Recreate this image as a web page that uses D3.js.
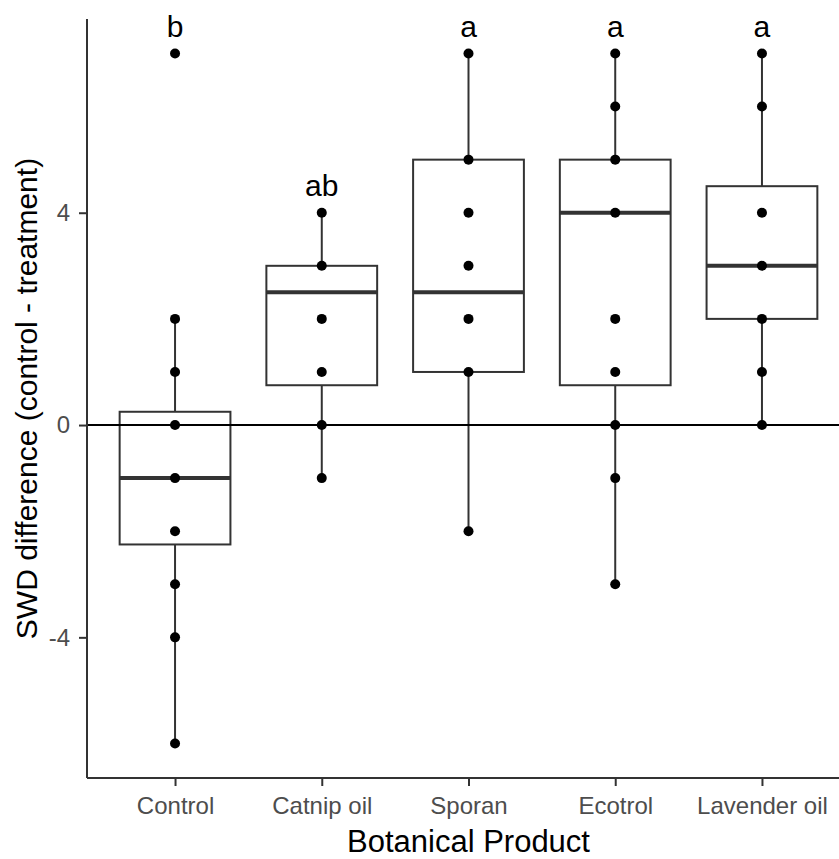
<!DOCTYPE html>
<html lang="en">
<head>
    <meta charset="utf-8">
    <title>SWD difference by botanical product</title>
    <style>
        body { margin: 0; background: #fff; font-family: "Liberation Sans", Arial, sans-serif; }
    </style>
    <script type="text/javascript" src="https://d3js.org/d3.v7.min.js"></script>
</head>
<body>
    <div class="chart"></div>

    <script type="text/javascript">
        // DATA ------------------------------------
        const categories = ["Control", "Catnip oil", "Sporan", "Ecotrol", "Lavender oil"];
        const points = [
            [7, 2, 1, 0, -1, -2, -3, -4, -6],
            [4, 3, 2, 1, 0, -1],
            [7, 5, 4, 3, 2, 1, -2],
            [7, 6, 5, 4, 2, 1, 0, -1, -3],
            [7, 6, 4, 3, 2, 1, 0]
        ];
        const q1 = [-2.25, 0.75, 1, 0.75, 2];
        const medians = [-1, 2.5, 2.5, 4, 3];
        const q3 = [0.25, 3, 5, 5, 4.5];
        const whiskerLow = [-6, -1, -2, -3, 0];
        const whiskerHigh = [2, 4, 7, 7, 7];
        const letters = ["b", "ab", "a", "a", "a"];
        const yTicks = [-4, 0, 4];

        // CHART INIT ------------------------------
        const W = 839, H = 859;
        const plot = {left: 87, right: 850, top: 19, bottom: 778};

        const svg = d3.select(".chart")
            .append("svg")
            .attr("width", W)
            .attr("height", H);

        const x = d3.scalePoint()
            .domain(categories)
            .range([plot.left, plot.right])
            .padding(0.6);

        const y = d3.scaleLinear()
            .domain([-6.65, 7.65])
            .range([plot.bottom, plot.top]);

        const boxW = x.step() * 0.755;

        const rows = categories.map((c, i) => ({
            cat: c, q1: q1[i], med: medians[i], q3: q3[i],
            lo: whiskerLow[i], hi: whiskerHigh[i], pts: points[i], letter: letters[i],
            top: d3.max(points[i])
        }));

        // whiskers
        const g = svg.append("g");
        g.selectAll(".whisker-hi")
            .data(rows)
            .join("line")
            .attr("x1", d => x(d.cat)).attr("x2", d => x(d.cat))
            .attr("y1", d => y(d.q3)).attr("y2", d => y(d.hi))
            .attr("stroke", "#333").attr("stroke-width", 2);
        g.selectAll(".whisker-lo")
            .data(rows)
            .join("line")
            .attr("x1", d => x(d.cat)).attr("x2", d => x(d.cat))
            .attr("y1", d => y(d.q1)).attr("y2", d => y(d.lo))
            .attr("stroke", "#333").attr("stroke-width", 2);

        // boxes
        g.selectAll("rect")
            .data(rows)
            .join("rect")
            .attr("x", d => x(d.cat) - boxW / 2)
            .attr("y", d => y(d.q3))
            .attr("width", boxW)
            .attr("height", d => y(d.q1) - y(d.q3))
            .attr("fill", "#fff")
            .attr("stroke", "#333")
            .attr("stroke-width", 2);

        // medians
        g.selectAll(".median")
            .data(rows)
            .join("line")
            .attr("class", "median")
            .attr("x1", d => x(d.cat) - boxW / 2).attr("x2", d => x(d.cat) + boxW / 2)
            .attr("y1", d => y(d.med)).attr("y2", d => y(d.med))
            .attr("stroke", "#333").attr("stroke-width", 4);

        // zero reference line
        svg.append("line")
            .attr("x1", plot.left).attr("x2", W)
            .attr("y1", y(0)).attr("y2", y(0))
            .attr("stroke", "#000").attr("stroke-width", 2);

        // points
        const flat = rows.flatMap(d => d.pts.map(v => ({cat: d.cat, v: v})));
        svg.selectAll("circle")
            .data(flat)
            .join("circle")
            .attr("cx", d => x(d.cat))
            .attr("cy", d => y(d.v))
            .attr("r", 5)
            .attr("fill", "#000");

        // significance letters
        svg.selectAll(".letter")
            .data(rows)
            .join("text")
            .attr("class", "letter")
            .attr("x", d => x(d.cat))
            .attr("y", d => y(d.top + 0.32))
            .attr("text-anchor", "middle")
            .attr("font-size", 30)
            .attr("fill", "#000")
            .text(d => d.letter);

        // AXES ------------------------------------
        const yAxis = d3.axisLeft(y).tickValues(yTicks).tickSize(8).tickPadding(9)
            .tickFormat(d => String(d));
        const xAxis = d3.axisBottom(x).tickSize(8).tickPadding(11);

        const yAxisG = svg.append("g")
            .attr("transform", `translate(${plot.left},0)`)
            .call(yAxis);
        const xAxisG = svg.append("g")
            .attr("transform", `translate(0,${plot.bottom})`)
            .call(xAxis);

        [yAxisG, xAxisG].forEach(a => {
            a.select(".domain").attr("stroke", "#333").attr("stroke-width", 2);
            a.selectAll(".tick line").attr("stroke", "#333").attr("stroke-width", 2);
            a.selectAll(".tick text")
                .attr("fill", "#4D4D4D")
                .attr("font-size", 24)
                .attr("font-family", "'Liberation Sans', Arial, sans-serif");
        });
        // y domain without end caps
        yAxisG.select(".domain").attr("d", `M0,${plot.top}V${plot.bottom}`);
        xAxisG.select(".domain").attr("d", `M${plot.left},0H${W}`);

        // axis titles
        svg.append("text")
            .attr("x", (plot.left + plot.right) / 2)
            .attr("y", 852)
            .attr("text-anchor", "middle")
            .attr("font-size", 31)
            .attr("fill", "#000")
            .text("Botanical Product");

        svg.append("text")
            .attr("transform", `translate(37,${(plot.top + plot.bottom) / 2}) rotate(-90)`)
            .attr("text-anchor", "middle")
            .attr("font-size", 30)
            .attr("fill", "#000")
            .text("SWD difference (control - treatment)");
    </script>
</body>
</html>
